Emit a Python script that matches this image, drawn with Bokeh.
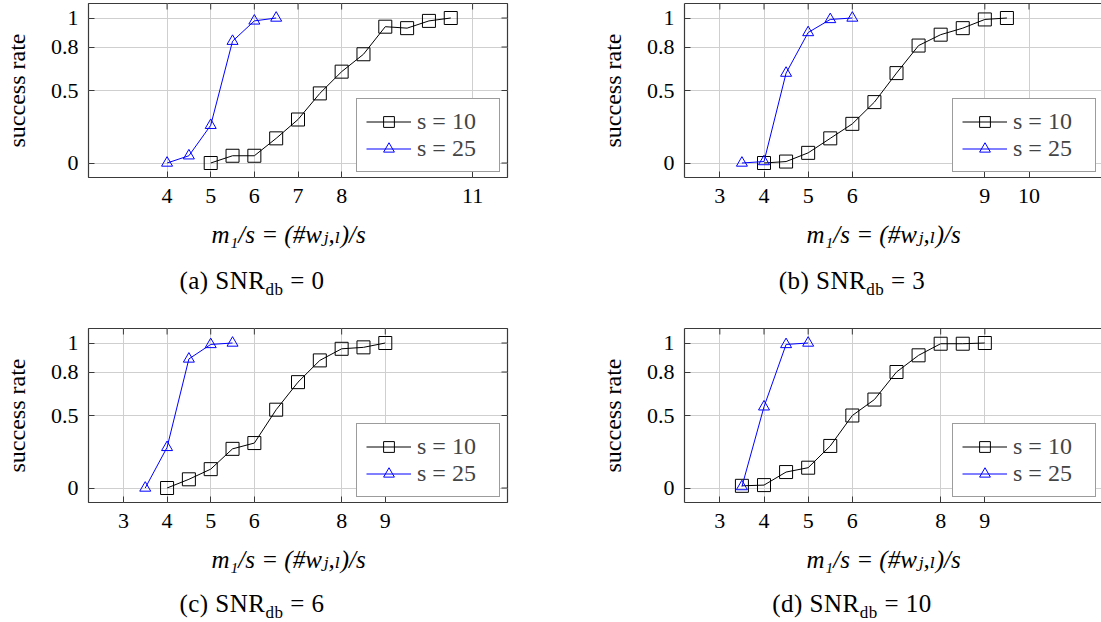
import numpy as np
from bokeh.plotting import figure
from bokeh.layouts import column, row
from bokeh.models import (LinearAxis, Legend, LegendItem, Range1d, Div,
                          FixedTicker, CustomJSTickFormatter)
from bokeh.embed import file_html
from bokeh.resources import INLINE

FONT = "Liberation Serif, DejaVu Serif, serif"
CSS_FONT = "'Liberation Serif', 'DejaVu Serif', serif"

# ---------------- data ----------------
panel_letters = ["a", "b", "c", "d"]
snr_db = [0, 3, 6, 10]
y_ticks = [0, 0.5, 0.8, 1]
x_ticks_a = [4, 5, 6, 7, 8, 11]
x_ticks_b = [3, 4, 5, 6, 9, 10]
x_ticks_c = [3, 4, 5, 6, 8, 9]
x_ticks_d = [3, 4, 5, 6, 8, 9]
legend_labels = ["s = 10", "s = 25"]
x_label = "m\u2081/s   =  (#w\u2C7C,\u2097)/s"
y_label = "success rate"

# (a) SNR_db = 0
a_s10_x = [5, 5.5, 6, 6.5, 7, 7.5, 8, 8.5, 9, 9.5, 10, 10.5]
a_s10_y = [0.0, 0.05, 0.05, 0.17, 0.30, 0.48, 0.63, 0.75, 0.94, 0.93, 0.98, 1.0]
a_s25_x = [4, 4.5, 5, 5.5, 6, 6.5]
a_s25_y = [0.0, 0.05, 0.26, 0.84, 0.98, 1.0]
# (b) SNR_db = 3
b_s10_x = [4, 4.5, 5, 5.5, 6, 6.5, 7, 7.5, 8, 8.5, 9, 9.5]
b_s10_y = [0.0, 0.01, 0.07, 0.17, 0.27, 0.42, 0.62, 0.81, 0.885, 0.93, 0.99, 1.0]
b_s25_x = [3.5, 4, 4.5, 5, 5.5, 6]
b_s25_y = [0.0, 0.01, 0.62, 0.90, 0.99, 1.0]
# (c) SNR_db = 6
c_s10_x = [4, 4.5, 5, 5.5, 6, 6.5, 7, 7.5, 8, 8.5, 9]
c_s10_y = [0.0, 0.06, 0.13, 0.27, 0.31, 0.54, 0.73, 0.88, 0.96, 0.97, 1.0]
c_s25_x = [3.5, 4, 4.5, 5, 5.5]
c_s25_y = [0.0, 0.28, 0.89, 0.99, 1.0]
# (d) SNR_db = 10
d_s10_x = [3.5, 4, 4.5, 5, 5.5, 6, 6.5, 7, 7.5, 8, 8.5, 9]
d_s10_y = [0.015, 0.02, 0.11, 0.14, 0.29, 0.50, 0.61, 0.80, 0.915, 0.995, 0.995, 1.0]
d_s25_x = [3.5, 4, 4.5, 5]
d_s25_y = [0.01, 0.56, 0.99, 1.0]

FRAME_C = "#3a3a3a"
GRID_C = "#cfcfcf"
PX_PER_UNIT = 424 / 9.6
X0, Y0, Y1 = 2.2, -0.1, 1.1


def make_panel(xt, s10x, s10y, s25x, s25y, width, height, bl, br, full_frame):
    frame_w = width - bl - br
    x_end = X0 + frame_w / PX_PER_UNIT
    p = figure(width=width, height=height,
               x_range=Range1d(X0, x_end), y_range=Range1d(Y0, Y1),
               output_backend="svg", toolbar_location=None,
               min_border_left=bl, min_border_right=br,
               min_border_top=3, min_border_bottom=82,
               x_axis_label=x_label, y_axis_label=y_label)
    p.background_fill_color = "white"
    p.border_fill_color = "white"

    fmt = CustomJSTickFormatter(code="return tick.toString()")
    xax = p.below[0]
    yax = p.left[0]
    xax.ticker = FixedTicker(ticks=xt)
    yax.ticker = FixedTicker(ticks=y_ticks)
    for ax in (xax, yax):
        ax.formatter = fmt
        ax.major_tick_in = 6
        ax.major_tick_out = 0
        ax.minor_tick_line_color = None
        ax.major_tick_line_color = FRAME_C
        ax.axis_line_color = None if full_frame else FRAME_C
        ax.axis_line_width = 1.2
        ax.major_label_text_font = FONT
        ax.major_label_text_font_size = "22px"
        ax.major_label_text_color = "black"
        ax.axis_label_text_font = FONT
        ax.axis_label_text_color = "black"
    xax.axis_label_text_font_size = "25px"
    yax.axis_label_text_font_size = "24px"
    xax.major_label_standoff = 11
    yax.major_label_standoff = 10
    xax.axis_label_standoff = 15
    yax.axis_label_standoff = 18
    xax.axis_label_text_font_style = "italic"
    yax.axis_label_text_font_style = "normal"

    p.xgrid.ticker = FixedTicker(ticks=xt)
    p.ygrid.ticker = FixedTicker(ticks=y_ticks)
    p.grid.grid_line_color = GRID_C
    p.grid.grid_line_width = 1

    if full_frame:
        p.outline_line_color = FRAME_C
        p.outline_line_width = 1.2
    else:
        p.outline_line_color = None
        top_line = LinearAxis(ticker=FixedTicker(ticks=[]), axis_line_color=FRAME_C,
                              axis_line_width=1.2, major_tick_line_color=None,
                              minor_tick_line_color=None, axis_label=None)
        p.add_layout(top_line, "above")

    # mirrored tick marks (top, and right where the frame is complete)
    p.ray(x=xt, y=[Y1] * len(xt), length=6, length_units="screen",
          angle=-np.pi / 2, line_color=FRAME_C, line_width=1)
    if full_frame:
        p.ray(x=[x_end] * len(y_ticks), y=y_ticks, length=6, length_units="screen",
              angle=np.pi, line_color=FRAME_C, line_width=1)

    l1 = p.line(s10x, s10y, line_color="black", line_width=1)
    m1 = p.scatter(s10x, s10y, marker="square", size=13, line_color="black",
                   fill_alpha=0, line_width=1)
    l2 = p.line(s25x, s25y, line_color="#0000ff", line_width=1)
    m2 = p.scatter(s25x, s25y, marker="triangle", size=11, line_color="#0000ff",
                   fill_alpha=0, line_width=1)

    legend = Legend(items=[LegendItem(label=legend_labels[0], renderers=[l1, m1]),
                           LegendItem(label=legend_labels[1], renderers=[l2, m2])],
                    location=(268, 5), orientation="vertical")
    legend.border_line_color = FRAME_C
    legend.border_line_width = 1.2
    legend.background_fill_alpha = 1
    legend.padding = 9
    legend.spacing = 0
    legend.margin = 0
    legend.glyph_width = 45
    legend.glyph_height = 27
    legend.label_height = 27
    legend.label_width = 73
    legend.label_standoff = 6
    legend.label_text_font = FONT
    legend.label_text_font_size = "24px"
    p.add_layout(legend)
    return p


def caption(letter, snr, width, height, center, pad_top):
    html = ('<div style="margin-left:%dpx;width:300px;text-align:center;'
            'padding-top:%dpx;font-family:%s;font-size:25px;line-height:26px;'
            'letter-spacing:0.5px;color:black;white-space:nowrap">(%s) SNR'
            '<sub style="font-size:17px;line-height:0">db</sub> = %d</div>'
            ) % (center - 150, pad_top, CSS_FONT, letter, snr)
    return Div(text=html, width=width, height=height, margin=0)


pa = make_panel(x_ticks_a, a_s10_x, a_s10_y, a_s25_x, a_s25_y, 590, 259, 83, 83, True)
pb = make_panel(x_ticks_b, b_s10_x, b_s10_y, b_s25_x, b_s25_y, 511, 259, 94, 0, False)
pc = make_panel(x_ticks_c, c_s10_x, c_s10_y, c_s25_x, c_s25_y, 590, 259, 83, 83, True)
pd = make_panel(x_ticks_d, d_s10_x, d_s10_y, d_s25_x, d_s25_y, 511, 259, 94, 0, False)

da = caption(panel_letters[0], snr_db[0], 590, 66, 252, 9)
db = caption(panel_letters[1], snr_db[1], 511, 66, 262, 9)
dc = caption(panel_letters[2], snr_db[2], 590, 38, 252, 7)
dd = caption(panel_letters[3], snr_db[3], 511, 38, 262, 7)

layout = column(row(column(pa, da), column(pb, db)),
                row(column(pc, dc), column(pd, dd)))
open("out.html", "w").write(file_html(layout, INLINE))
